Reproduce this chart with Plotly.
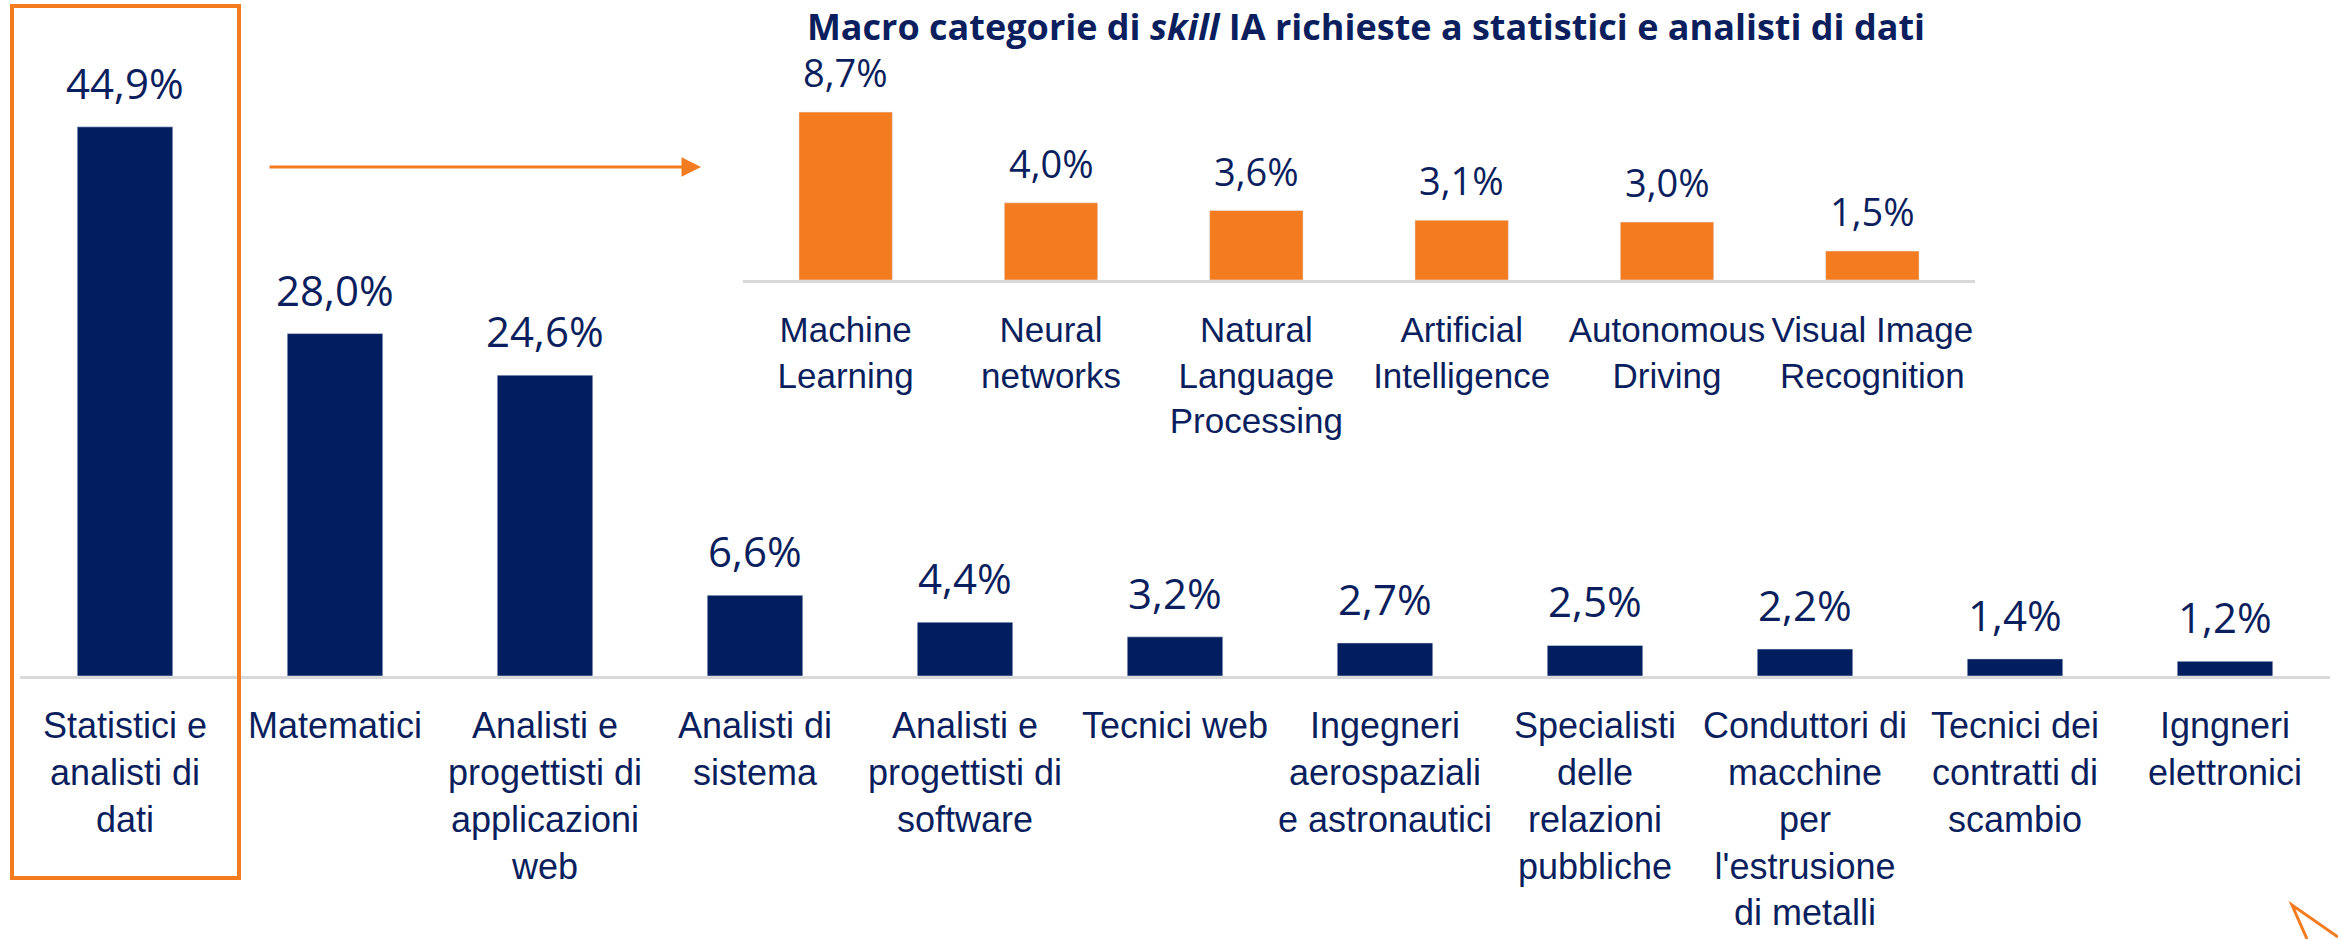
import plotly.graph_objects as go

# ---------------- data ----------------
main_categories = [
    "Statistici e<br>analisti di<br>dati",
    "Matematici",
    "Analisti e<br>progettisti di<br>applicazioni<br>web",
    "Analisti di<br>sistema",
    "Analisti e<br>progettisti di<br>software",
    "Tecnici web",
    "Ingegneri<br>aerospaziali<br>e astronautici",
    "Specialisti<br>delle<br>relazioni<br>pubbliche",
    "Conduttori di<br>macchine<br>per<br>l'estrusione<br>di metalli",
    "Tecnici dei<br>contratti di<br>scambio",
    "Igngneri<br>elettronici",
]
main_values = [44.9, 28.0, 24.6, 6.6, 4.4, 3.2, 2.7, 2.5, 2.2, 1.4, 1.2]

skill_categories = [
    "Machine<br>Learning",
    "Neural<br>networks",
    "Natural<br>Language<br>Processing",
    "Artificial<br>Intelligence",
    "Autonomous<br>Driving",
    "Visual Image<br>Recognition",
]
skill_values = [8.7, 4.0, 3.6, 3.1, 3.0, 1.5]

title_text = "Macro categorie di <i>skill</i> IA richieste a statistici e analisti di dati"

# ---------------- style ----------------
W, H = 2338, 939
NAVY = "#021E5E"
TEXT = "#0B1F5E"
ORANGE = "#F47C20"
AXIS = "#D9D9D9"
CATFONT = "Liberation Sans, Arial, sans-serif"
VALFONT = "Open Sans, Noto Sans, sans-serif"


def px_x(p):
    return p / W


def px_y(p):
    return 1 - p / H


def fmt(v):
    return f"{v:.1f}".replace(".", ",") + "%"


fig = go.Figure()

fig.add_trace(go.Bar(
    x=main_categories, y=main_values, marker_color=NAVY,
    xaxis="x", yaxis="y", showlegend=False, hoverinfo="skip",
))
fig.add_trace(go.Bar(
    x=skill_categories, y=skill_values, marker_color=ORANGE,
    xaxis="x2", yaxis="y2", showlegend=False, hoverinfo="skip",
))

annotations = []
for c, v in zip(main_categories, main_values):
    annotations.append(dict(
        x=c, y=v, xref="x", yref="y", text=fmt(v), showarrow=False,
        yanchor="bottom", yshift=14,
        font=dict(family=VALFONT, size=42, color=TEXT),
    ))
for c, v in zip(skill_categories, skill_values):
    annotations.append(dict(
        x=c, y=v, xref="x2", yref="y2", text=fmt(v), showarrow=False,
        yanchor="bottom", yshift=12,
        font=dict(family=VALFONT, size=38, color=TEXT),
    ))

# arrow from highlighted bar toward inset
annotations.append(dict(
    x=px_x(701), y=px_y(167), xref="paper", yref="paper",
    ax=-433, ay=0, axref="pixel", ayref="pixel",
    text="", showarrow=True, arrowhead=2, arrowsize=1.3,
    arrowwidth=3, arrowcolor=ORANGE,
))

shapes = [
    dict(type="rect", xref="paper", yref="paper",
         x0=px_x(12), x1=px_x(239), y0=px_y(878), y1=px_y(6),
         line=dict(color=ORANGE, width=4), fillcolor="rgba(0,0,0,0)"),
    dict(type="path", xref="paper", yref="paper",
         path=f"M {px_x(2307)} {px_y(939)} L {px_x(2292)} {px_y(905)} L {px_x(2338)} {px_y(937)}",
         line=dict(color=ORANGE, width=3)),
]

main_base = 676
main_scale = 12.23
inset_base = 280
inset_scale = 19.3

fig.update_layout(
    width=W, height=H,
    margin=dict(l=0, r=0, t=0, b=0),
    paper_bgcolor="white", plot_bgcolor="rgba(0,0,0,0)",
    bargap=0.545,
    title=dict(text=title_text, x=px_x(1366), xanchor="center",
               y=px_y(27), yanchor="middle", xref="paper", yref="paper",
               font=dict(family=VALFONT, size=36, color=TEXT, weight="bold")),
    xaxis=dict(domain=[px_x(20), px_x(2330)], anchor="y", type="category",
               showline=True, linecolor=AXIS, linewidth=3, ticks="",
               tickangle=0, automargin=False,
               showgrid=False, zeroline=False, ticklabelstandoff=16,
               tickfont=dict(family=CATFONT, size=36, color=TEXT)),
    yaxis=dict(domain=[px_y(main_base), 1], range=[0, main_base / main_scale],
               visible=False, showgrid=False, zeroline=False),
    xaxis2=dict(domain=[px_x(743), px_x(1975)], anchor="y2", type="category",
                showline=True, linecolor=AXIS, linewidth=3, ticks="",
                tickangle=0, automargin=False,
                showgrid=False, zeroline=False, ticklabelstandoff=17,
                tickfont=dict(family=CATFONT, size=35, color=TEXT)),
    yaxis2=dict(domain=[px_y(inset_base), 1], range=[0, inset_base / inset_scale],
                visible=False, showgrid=False, zeroline=False),
    annotations=annotations,
    shapes=shapes,
)

fig.write_html("out.html", config={"displayModeBar": False},
               post_script="document.body.style.margin='0';")
